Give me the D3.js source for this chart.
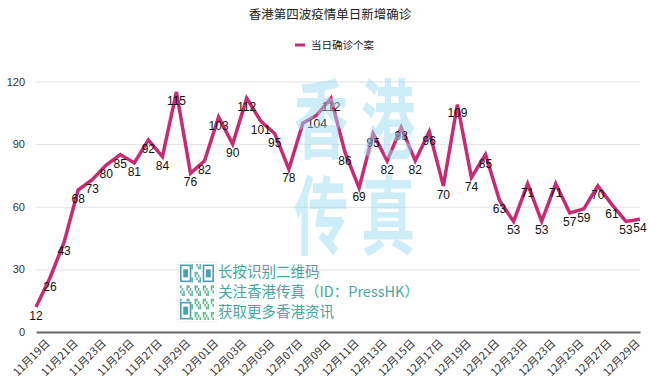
<!DOCTYPE html>
<html><head><meta charset="utf-8">
<script src="https://cdn.jsdelivr.net/npm/d3@7/dist/d3.min.js"></script>
<style>
html,body{margin:0;padding:0;background:#fff;}
svg{display:block;font-family:"Liberation Sans","Noto Sans CJK SC",sans-serif;}
</style></head>
<body>
<svg id="chart" width="660" height="389"></svg>
<script>
const title = "香港第四波疫情单日新增确诊";
const seriesName = "当日确诊个案";
const dates = [
  "11月19日","11月20日","11月21日","11月22日","11月23日","11月24日","11月25日","11月26日","11月27日","11月28日","11月29日","11月30日",
  "12月01日","12月02日","12月03日","12月04日","12月05日","12月06日","12月07日","12月08日","12月09日","12月10日",
  "12月11日","12月12日","12月13日","12月14日","12月15日","12月16日","12月17日","12月18日","12月19日","12月20日",
  "12月21日","12月22日","12月23日","12月24日","12月23日","12月24日","12月25日","12月26日","12月27日","12月28日",
  "12月29日","12月30日"
];
const cases = [12,26,43,68,73,80,85,81,92,84,115,76,82,103,90,112,101,95,78,100,104,112,86,69,95,82,98,82,96,70,109,74,85,63,53,71,53,71,57,59,70,61,53,54];
const hiddenLabels = [19];
const yTicks = [0,30,60,90,120];
const watermark = ["香","港","传","真"];
const promoLines = ["长按识别二维码","关注香港传真（ID：PressHK）","获取更多香港资讯"];

const svg = d3.select("#chart");
const idx = d3.range(cases.length);
const x = d3.scalePoint().domain(idx).range([36, 640]);
const y = d3.scaleLinear().domain([0,120]).range([332, 81.5]);

// title
svg.append("text").attr("x",330).attr("y",19).attr("text-anchor","middle")
  .attr("font-size",12.5).attr("fill","#222").attr("font-family","Noto Sans CJK SC").text(title);
// legend
svg.append("line").attr("x1",295).attr("x2",305).attr("y1",45).attr("y2",45)
  .attr("stroke","#c92a72").attr("stroke-width",3);
svg.append("text").attr("x",311).attr("y",49).attr("font-size",10.5).attr("fill","#222")
  .attr("font-family","Noto Sans CJK SC").text(seriesName);

// y grid + labels
const ya = svg.append("g").attr("transform","translate(36,0)")
  .call(d3.axisLeft(y).tickValues(yTicks).tickSize(-604).tickPadding(11));
ya.select(".domain").remove();
ya.selectAll(".tick line").attr("stroke","#e2e2e2");
ya.selectAll(".tick text").attr("font-size",11).attr("fill","#333").attr("font-family","Liberation Sans");
ya.selectAll(".tick").filter(d=>d===0).select("line").remove();

// x axis
const xa = svg.append("g").attr("transform","translate(0,332)")
  .call(d3.axisBottom(x).tickValues(idx.filter(i=>i%2===0)).tickFormat(i=>dates[i]).tickSize(0));
xa.select(".domain").attr("stroke","#666").attr("stroke-width",2);
xa.selectAll(".tick text").attr("font-size",11).attr("fill","#333").attr("font-family","Noto Sans CJK SC")
  .attr("text-anchor","end").attr("dy",0).attr("y",0)
  .attr("transform","translate(14,12) rotate(-45)");

// line
const line = d3.line().x((d,i)=>x(i)).y(d=>y(d));
svg.append("path").datum(cases).attr("d",line).attr("fill","none")
  .attr("stroke","#c92a72").attr("stroke-width",3.5).attr("stroke-linejoin","miter");

// labels
const labelData = cases.map((v,i)=>({v,i})).filter(d=>!hiddenLabels.includes(d.i));
svg.append("g").selectAll("text").data(labelData).join("text")
  .attr("x",d=>x(d.i)).attr("y",d=>y(d.v)+13)
  .attr("text-anchor","middle").attr("font-size",12).attr("fill","#111")
  .attr("font-family","Liberation Sans").text(d=>d.v);

// watermark
const wm = svg.append("g").attr("opacity",0.5);
const wmPos = [[321,152],[388,152],[321,248],[388,248]];
watermark.forEach((c,i)=>{
  wm.append("text").attr("transform",`translate(${wmPos[i][0]},${wmPos[i][1]}) scale(0.82,1.3)`)
    .attr("text-anchor","middle").attr("font-size",66).attr("font-weight","bold")
    .attr("font-family","Noto Sans CJK SC").attr("fill","#9cdcf2").text(c);
});

// QR-like box
const qr = svg.append("g").attr("transform","translate(178,262)");
qr.append("rect").attr("width",38).attr("height",60).attr("fill","#fff").attr("stroke","#eee");
const n = 21, cw = 34/n, ch = 56/n;
const cells = [];
for(let r=0;r<n;r++) for(let c=0;c<n;c++){
  const inFinder = (r<7&&c<7)||(r<7&&c>=n-7)||(r>=n-7&&c<7);
  if(inFinder) continue;
  if(((r*7+c*13+r*c)%5)<2) cells.push([r,c]);
}
const qcol = d3.scaleLinear().domain([0,n]).range(["#4e9fb3","#3fb07a"]);
qr.selectAll("rect.m").data(cells).join("rect").attr("class","m")
  .attr("x",d=>2+d[1]*cw).attr("y",d=>2+d[0]*ch).attr("width",cw).attr("height",ch)
  .attr("fill",d=>qcol(d[0]+d[1]/2)).attr("opacity",0.85);
[[0,0],[0,n-7],[n-7,0]].forEach(([r,c])=>{
  qr.append("rect").attr("x",2+c*cw+cw/2).attr("y",2+r*ch+ch/2).attr("width",6*cw).attr("height",6*ch)
    .attr("fill","none").attr("stroke","#4e9fb3").attr("stroke-width",cw);
  qr.append("rect").attr("x",2+(c+2)*cw).attr("y",2+(r+2)*ch).attr("width",3*cw).attr("height",3*ch).attr("fill","#4e9fb3");
});
promoLines.forEach((t,i)=>{
  svg.append("text").attr("x",218).attr("y",277+i*20).attr("font-size",14.5)
    .attr("font-family","Noto Sans CJK SC").attr("fill","#4aa6a0").text(t);
});
</script>
</body></html>
